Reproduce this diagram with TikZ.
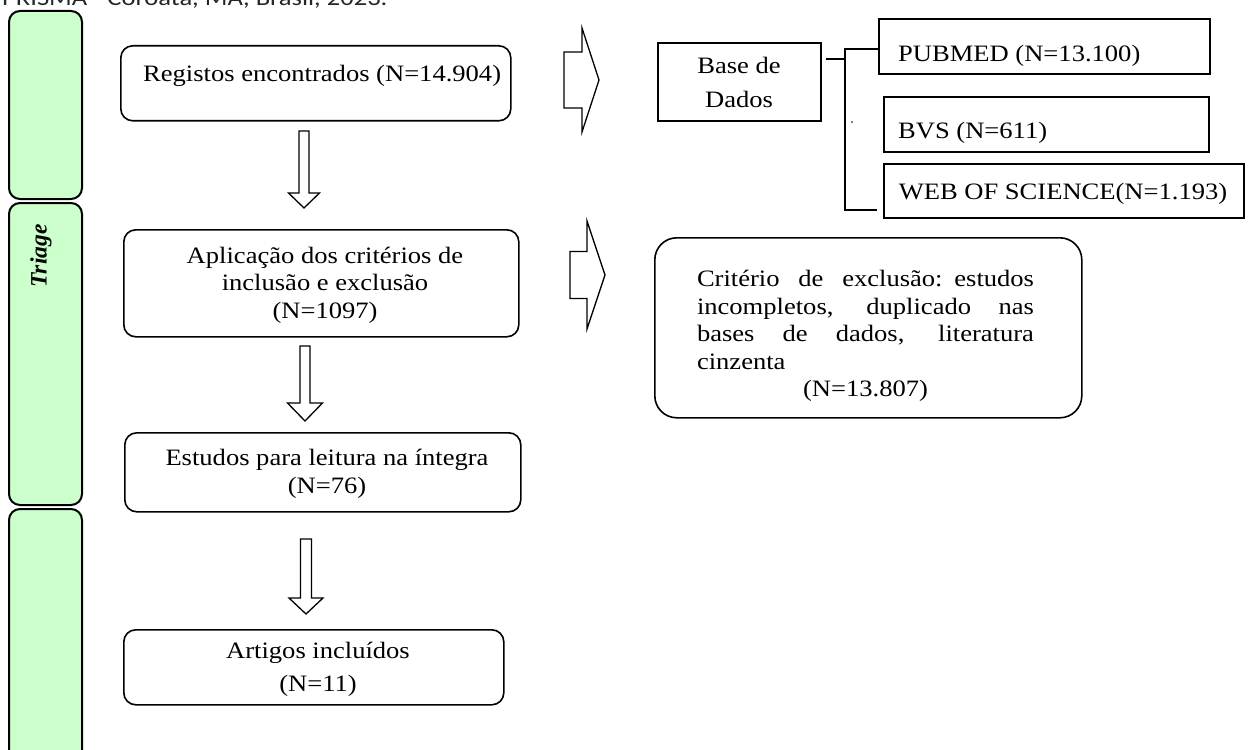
\documentclass[tikz,border=0pt]{standalone}
\usepackage{fontspec}
\setmainfont[FakeStretch=1.13]{Liberation Serif}
\newfontfamily\plainserif{Liberation Serif}
\newfontfamily\capsans[FakeStretch=1.17]{Carlito}
\definecolor{bandgreen}{HTML}{CCFFCC}
% hollow block arrows: x, top, head base, tip, shaft half, head half
\newcommand{\hollowdown}[6]{\draw[hollow] (#1-#5,#2) -- (#1+#5,#2) -- (#1+#5,#3) -- (#1+#6,#3) -- (#1,#4) -- (#1-#6,#3) -- (#1-#5,#3) -- cycle;}
% left, head base, tip, y centre, shaft half, head half
\newcommand{\hollowright}[6]{\draw[hollow] (#1,#4-#5) -- (#2,#4-#5) -- (#2,#4-#6) -- (#3,#4) -- (#2,#4+#6) -- (#2,#4+#5) -- (#1,#4+#5) -- cycle;}
% one justified line of the exclusion box
\newcommand{\fullline}[1]{\leavevmode\hbox to 337pt{\spaceskip=0.25em plus 1fil\relax #1}}
\begin{document}
\begin{tikzpicture}[x=1pt,y=-1pt,
  every node/.style={font=\fontsize{23.5}{27.5}\selectfont,inner sep=0pt},
  stage/.style={draw,line width=1.6pt,rounded corners=12pt,anchor=north west},
  dbbox/.style={draw,line width=1.8pt,anchor=north west},
  band/.style={draw,line width=2pt,fill=bandgreen,rounded corners=11pt},
  hollow/.style={draw,line width=1.3pt,line join=miter},
  conn/.style={line width=1.7pt}]
\useasboundingbox (0,0) rectangle (1249,749);
\clip (0,0) rectangle (1249,749);
\fill[white] (0,0) rectangle (1249,749);
% caption, cut at the top
\node[anchor=base west,font=\capsans\fontsize{22.7}{27}\selectfont,text=black!85] (cap) at (2,6) {PRISMA - Coroatá, MA, Brasil, 2023.};
% green stage bands
\draw[band] (9,11) rectangle (82,199);
\draw[band] (9,203) rectangle (82,505);
\draw[band] (9,509) rectangle (82,780);
\node[rotate=90,font=\plainserif\bfseries\itshape\fontsize{23.5}{27}\selectfont] (tri) at (41,256) {Triage};
% main column
\node[stage,minimum width=390pt,minimum height=75pt] (reg) at (120,45) {};
\node[anchor=base west] (regtxt) at (143,82) {Registos encontrados (N=14.904)};
\hollowdown{304}{131}{193}{208}{5}{15.5}
\node[stage,minimum width=395pt,minimum height=107pt] (apl) at (123,229) {};
\node[align=center] (apltxt) at (325,285) {Aplicação dos critérios de\\inclusão e exclusão\\(N=1097)};
\hollowdown{305}{346}{403}{421}{5}{17.5}
\node[stage,minimum width=396pt,minimum height=79pt] (est) at (124,432) {};
\node[align=center] (esttxt) at (327,474) {Estudos para leitura na íntegra\\(N=76)};
\hollowdown{306}{539}{598}{614}{5.5}{17}
\node[stage,minimum width=380pt,minimum height=75pt] (art) at (123,629) {};
\node[align=center,font=\fontsize{23.5}{33}\selectfont] (arttxt) at (318,669) {Artigos incluídos\\(N=11)};
% databases
\hollowright{564}{582}{599}{80}{28}{52}
\node[dbbox,minimum width=163pt,minimum height=78pt] (base) at (657,42) {};
\node[align=center,font=\fontsize{23.5}{34}\selectfont] (basetxt) at (739,82) {Base de\\Dados};
\node[dbbox,minimum width=331pt,minimum height=55pt] (pub) at (878,18) {};
\node[anchor=base west] (pubtxt) at (898,62) {PUBMED (N=13.100)};
\node[dbbox,minimum width=325pt,minimum height=55pt] (bvs) at (883,96) {};
\node[anchor=base west] (bvstxt) at (898,139) {BVS (N=611)};
\node[dbbox,minimum width=360pt,minimum height=54pt] (web) at (883,163) {};
\node[anchor=base] (webtxt) at (1063,199) {WEB OF SCIENCE(N=1.193)};
\coordinate (stub) at (826,59);
\draw[conn] (stub) -- ++(19,0);
\draw[conn] ([yshift=-2.5pt]pub.west) -- ++(-33,0) |- ([xshift=-6pt,yshift=9pt]web.south west);
\fill (852,122) circle (0.9pt);
% exclusion
\hollowright{570}{587}{605}{275}{23.5}{54}
\node[stage,rounded corners=22pt,minimum width=427pt,minimum height=180pt] (excl) at (654,237) {};
\node[text width=337pt,align=left] (excltxt) at (865.5,336) {\fullline{Critério de exclusão: estudos}\\\fullline{incompletos, duplicado nas}\\\fullline{bases de dados, literatura}\\cinzenta\\\leavevmode\hbox to 337pt{\hfil(N=13.807)\hfil}};
\end{tikzpicture}
\end{document}
